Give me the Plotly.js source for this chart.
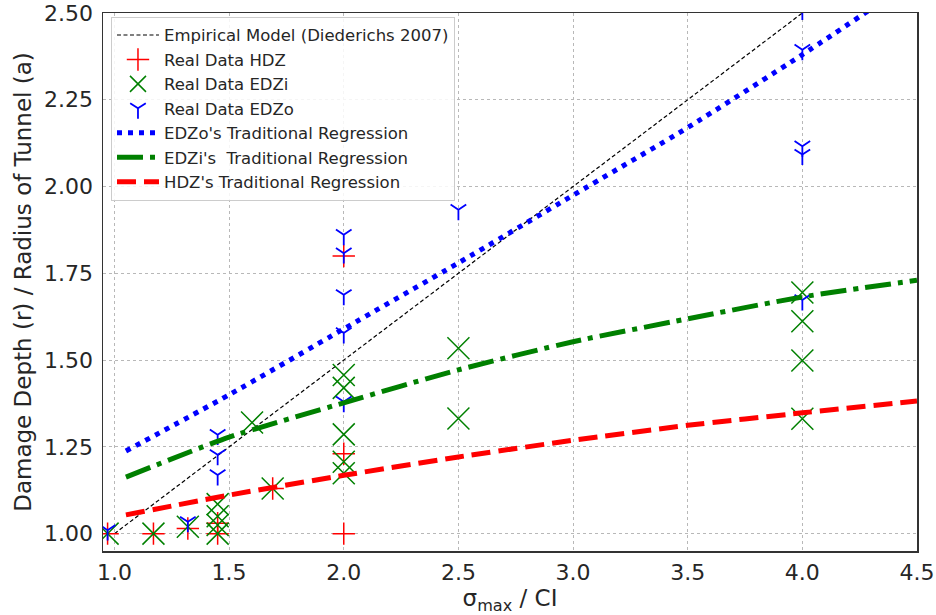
<!DOCTYPE html>
<html>
<head>
<meta charset="utf-8">
<script src="https://cdn.plot.ly/plotly-3.0.1.min.js"></script>
<style>
  html, body { margin: 0; padding: 0; background: #ffffff; }
  #chart { width: 936px; height: 615px; }
</style>
</head>
<body>
<div id="chart"></div>
<script>
// Empirical model (Diederichs 2007)
const empX = [1.0, 4.0];
const empY = [1.0, 2.5];

// Real data HDZ
const hdzX = [0.97, 1.17, 1.32, 1.45, 1.45, 1.69, 2.0, 2.0, 2.0];
const hdzY = [1.0, 1.0, 1.015, 1.03, 1.0, 1.13, 1.80, 1.23, 1.0];

// Real data EDZi
const edziX = [0.97, 1.17, 1.32, 1.45, 1.45, 1.45, 1.45, 1.60, 1.69, 2.0, 2.0, 2.0, 2.0, 2.0, 2.5, 2.5, 4.0, 4.0, 4.0, 4.0];
const edziY = [1.0, 1.0, 1.02, 1.085, 1.05, 1.025, 1.0, 1.32, 1.13, 1.457, 1.42, 1.286, 1.207, 1.174, 1.534, 1.332, 1.695, 1.612, 1.499, 1.331];

// Real data EDZo
const edzoX = [0.97, 1.32, 1.45, 1.45, 1.45, 2.0, 2.0, 2.0, 2.0, 2.0, 2.5, 4.0, 4.0, 4.0, 4.0, 4.0];
const edzoY = [1.01, 1.034, 1.285, 1.227, 1.169, 1.861, 1.808, 1.688, 1.578, 1.380, 1.933, 2.51, 2.394, 2.116, 2.092, 1.673];

// Traditional regressions
const regX = [1.05, 1.5, 2.0, 2.5, 3.0, 3.5, 4.0, 4.5];
const edzoReg = [1.238, 1.40, 1.59, 1.78, 1.975, 2.17, 2.38, 2.60];
const edziReg = [1.163, 1.278, 1.377, 1.472, 1.553, 1.619, 1.682, 1.73];
const hdzReg = [1.054, 1.111, 1.168, 1.221, 1.269, 1.312, 1.348, 1.382];

const xTicks = [1.0, 1.5, 2.0, 2.5, 3.0, 3.5, 4.0, 4.5];
const yTicks = [1.00, 1.25, 1.50, 1.75, 2.00, 2.25, 2.50];

const FONT = 'DejaVu Sans, sans-serif';

const traces = [
  {
    x: empX, y: empY, mode: 'lines', name: 'Empirical Model (Diederichs 2007)',
    line: { color: '#000000', width: 1.2, dash: '4px,2.5px' }
  },
  {
    x: hdzX, y: hdzY, mode: 'markers', name: 'Real Data HDZ',
    marker: { symbol: 'cross-thin-open', size: 16, color: '#ff0000', line: { color: '#ff0000', width: 1.5 } }
  },
  {
    x: edziX, y: edziY, mode: 'markers', name: 'Real Data EDZi',
    marker: { symbol: 'x-thin-open', size: 22, color: '#008000', line: { color: '#008000', width: 1.5 } }
  },
  {
    x: edzoX, y: edzoY, mode: 'markers', name: 'Real Data EDZo',
    marker: { symbol: 'y-down-open', size: 13, color: '#0000ff', line: { color: '#0000ff', width: 1.8 } }
  },
  {
    x: regX, y: edzoReg, mode: 'lines', name: "EDZo's Traditional Regression",
    line: { color: '#0000ff', width: 5, dash: '5px,6px', shape: 'spline', smoothing: 0.6 }
  },
  {
    x: regX, y: edziReg, mode: 'lines', name: "EDZi's  Traditional Regression",
    line: { color: '#008000', width: 5, dash: '26px,7px,5px,7px', shape: 'spline', smoothing: 0.6 }
  },
  {
    x: regX, y: hdzReg, mode: 'lines', name: "HDZ's Traditional Regression",
    line: { color: '#ff0000', width: 5, dash: '19px,8px', shape: 'spline', smoothing: 0.6 }
  }
];

const axisCommon = {
  showline: true, mirror: true, linecolor: '#333333', linewidth: 1.5,
  showgrid: true, gridcolor: '#b8b8b8', gridwidth: 1, griddash: 'dot',
  zeroline: false, ticks: '',
  tickfont: { family: FONT, size: 22, color: '#262626' }
};

const layout = {
  width: 936, height: 615,
  margin: { l: 103, r: 19, t: 13, b: 64 },
  paper_bgcolor: '#ffffff', plot_bgcolor: '#ffffff',
  showlegend: true,
  font: { family: FONT, color: '#262626' },
  xaxis: Object.assign({}, axisCommon, {
    range: [0.95, 4.5], tickvals: xTicks, ticktext: xTicks.map(v => v.toFixed(1)),
    ticklabelstandoff: 1,
    title: { text: 'σ<sub>max</sub> / CI', font: { family: FONT, size: 23, color: '#262626' }, standoff: 6 }
  }),
  yaxis: Object.assign({}, axisCommon, {
    range: [0.95, 2.5], tickvals: yTicks, ticktext: yTicks.map(v => v.toFixed(2)),
    ticklabelstandoff: 4,
    title: { text: 'Damage Depth (r) / Radius of Tunnel (a)', font: { family: FONT, size: 23, color: '#262626' }, standoff: 6 }
  }),
  legend: {
    x: 0.0098, y: 0.993, xanchor: 'left', yanchor: 'top',
    bgcolor: 'rgba(255,255,255,0.85)', bordercolor: '#cccccc', borderwidth: 1,
    font: { family: FONT, size: 16.5, color: '#262626' },
    itemwidth: 42,
    tracegroupgap: 0
  }
};

Plotly.newPlot('chart', traces, layout, { displayModeBar: false, staticPlot: true });
</script>
</body>
</html>
